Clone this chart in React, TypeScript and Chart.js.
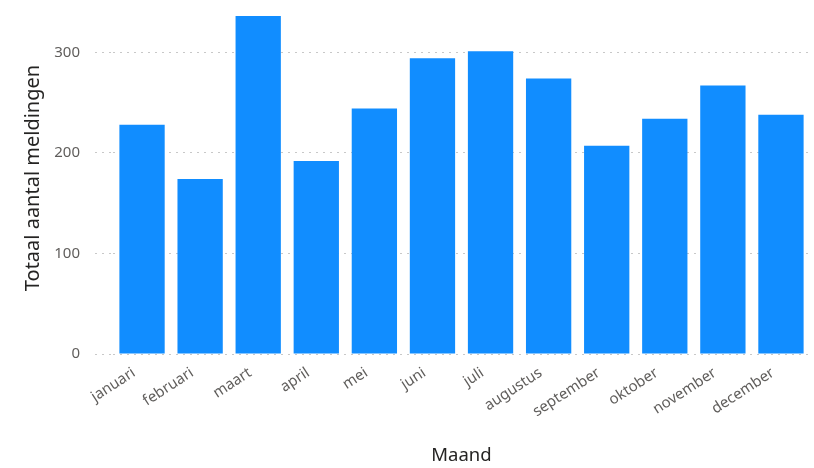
import React, { useEffect, useRef } from "react";
import { Chart, registerables } from "chart.js";

Chart.register(...registerables);

const months = ["januari", "februari", "maart", "april", "mei", "juni", "juli", "augustus", "september", "oktober", "november", "december"];
const meldingen = [228, 174, 336, 192, 244, 294, 301, 274, 207, 234, 267, 238];
const yTicks = [0, 100, 200, 300];

const FONT = "'Noto Sans', 'Open Sans', sans-serif";

export default function App() {
  const ref = useRef<HTMLCanvasElement>(null);
  useEffect(() => {
    if (!ref.current) return;
    const chart = new Chart(ref.current, {
      type: "bar",
      data: {
        labels: months,
        datasets: [
          {
            data: meldingen,
            backgroundColor: "#118DFF",
            borderWidth: 0,
            categoryPercentage: 1,
            barPercentage: 0.78,
          },
        ],
      },
      options: {
        animation: false,
        responsive: false,
        maintainAspectRatio: false,
        layout: { padding: { top: 2, right: 4, left: 0, bottom: 0 } },
        plugins: { legend: { display: false }, tooltip: { enabled: false } },
        scales: {
          x: {
            afterFit: (s: any) => {
              s.height = 114;
              s.paddingLeft = 0;
              s.paddingRight = 0;
            },
            grid: { display: false },
            border: { display: false },
            ticks: {
              color: "#605E5C",
              font: { family: FONT, size: 15 },
              minRotation: 33,
              maxRotation: 33,
              autoSkip: false,
              padding: 2,
              labelOffset: -8,
            },
            title: {
              display: true,
              text: "Maand",
              color: "#252423",
              font: { family: FONT, size: 18.5 },
              padding: { top: 0, bottom: 1 },
            },
          },
          y: {
            min: 0,
            max: 350,
            afterBuildTicks: (scale: any) => {
              scale.ticks = yTicks.map((v) => ({ value: v }));
            },
            afterFit: (s: any) => {
              s.width = 113;
              s.paddingTop = 0;
              s.paddingBottom = 0;
            },
            grid: {
              color: "#C8C8C8",
              lineWidth: 1,
              tickLength: 18,
              tickColor: "#C8C8C8",
              tickBorderDash: [2, 5],
            },
            border: { display: false, dash: [2, 5] },
            ticks: {
              color: "#605E5C",
              font: { family: FONT, size: 15 },
              padding: 15,
            },
            title: {
              display: true,
              text: "Totaal aantal meldingen",
              color: "#252423",
              font: { family: FONT, size: 20 },
              padding: { top: 21, bottom: 0 },
            },
          },
        },
      },
    });
    return () => chart.destroy();
  }, []);
  return (
    <div style={{ position: "fixed", left: 0, top: 0, width: 814, height: 468, background: "#fff" }}>
      <canvas ref={ref} width={814} height={468} style={{ width: 814, height: 468 }} />
    </div>
  );
}
